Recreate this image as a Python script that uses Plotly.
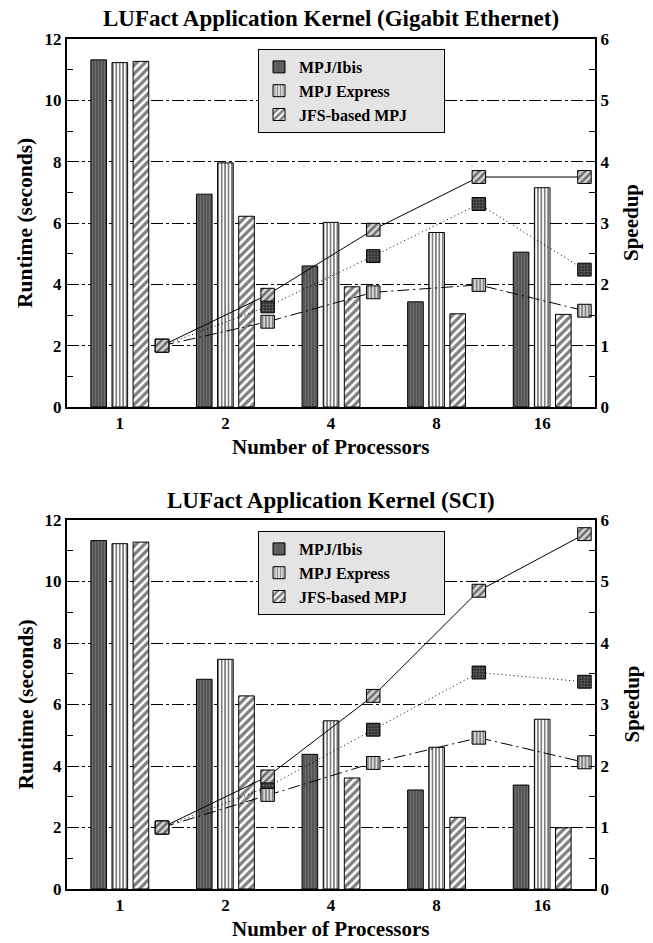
import plotly.graph_objects as go

# ---------------- data ----------------
processors = ["1", "2", "4", "8", "16"]
series_names = ["MPJ/Ibis", "MPJ Express", "JFS-based MPJ"]

# Gigabit Ethernet: runtime (seconds)
ge_ibis = [11.32, 6.94, 4.60, 3.43, 5.05]
ge_express = [11.23, 7.96, 6.02, 5.69, 7.15]
ge_jfs = [11.27, 6.22, 3.92, 3.04, 3.02]
# Gigabit Ethernet: speedup
ge_ibis_speedup = [1.0, 1.64, 2.46, 3.31, 2.24]
ge_express_speedup = [1.0, 1.39, 1.87, 1.99, 1.57]
ge_jfs_speedup = [1.0, 1.83, 2.89, 3.75, 3.75]

# SCI: runtime (seconds)
sci_ibis = [11.33, 6.82, 4.38, 3.22, 3.38]
sci_express = [11.23, 7.47, 5.47, 4.61, 5.52]
sci_jfs = [11.28, 6.28, 3.61, 2.33, 1.99]
# SCI: speedup
sci_ibis_speedup = [1.0, 1.66, 2.59, 3.52, 3.37]
sci_express_speedup = [1.0, 1.53, 2.05, 2.46, 2.06]
sci_jfs_speedup = [1.0, 1.83, 3.14, 4.85, 5.77]

titles = ["LUFact Application Kernel (Gigabit Ethernet)", "LUFact Application Kernel (SCI)"]

# ---------------- styling ----------------
FONT = '"Liberation Serif", "Times New Roman", Times, "DejaVu Serif", serif'
W, H = 653, 943
ML, MR, MT, MB = 67, 58, 39, 54
PH = H - MT - MB
top_dom = [(889 - 407) / PH, 1.0]
bot_dom = [0.0, (889 - 520) / PH]

bar_patterns = [
    dict(shape="|", fgcolor="#8a8a8a", bgcolor="#555555", size=3, solidity=0.3),
    dict(shape="|", fgcolor="black", bgcolor="white", size=3.4, solidity=0.5),
    dict(shape="/", fgcolor="black", bgcolor="white", size=6, solidity=0.55),
]
marker_patterns = [
    dict(shape=".", fgcolor="#9a9a9a", bgcolor="#303030", size=3, solidity=0.4),
    dict(shape="|", fgcolor="black", bgcolor="#d8d8d8", size=3.4, solidity=0.4),
    dict(shape="/", fgcolor="black", bgcolor="#d8d8d8", size=5, solidity=0.5),
]
line_dash = ["1px,3px", "12px,4px,2px,4px", "solid"]
bar_offsets = [-0.2, 0.0, 0.2]
marker_offset = 0.4
bar_w = 0.148
mk_w = 0.128
mk_h = 0.21

fig = go.Figure()

panels = [
    dict(rt=[ge_ibis, ge_express, ge_jfs], sp=[ge_ibis_speedup, ge_express_speedup, ge_jfs_speedup],
         xa="x", ya="y", ya_sp="y2", ya_mk="y5", legend="legend"),
    dict(rt=[sci_ibis, sci_express, sci_jfs], sp=[sci_ibis_speedup, sci_express_speedup, sci_jfs_speedup],
         xa="x2", ya="y3", ya_sp="y4", ya_mk="y6", legend="legend2"),
]

idx = list(range(len(processors)))
for p in panels:
    # runtime bars
    for k, name in enumerate(series_names):
        fig.add_trace(go.Bar(
            x=[i + bar_offsets[k] for i in idx], y=p["rt"][k], width=bar_w,
            name=name + ("\u00a0" * 8 if k == 2 else ""),
            marker=dict(color=bar_patterns[k]["bgcolor"], pattern=bar_patterns[k],
                        line=dict(color="black", width=1)),
            xaxis=p["xa"], yaxis=p["ya"], legend=p["legend"], hoverinfo="skip",
        ))
    # speedup lines
    for k, name in enumerate(series_names):
        fig.add_trace(go.Scatter(
            x=[i + marker_offset for i in idx], y=p["sp"][k], mode="lines",
            line=dict(color="black", width=1, dash=line_dash[k]),
            xaxis=p["xa"], yaxis=p["ya_sp"], showlegend=False, hoverinfo="skip",
        ))
    # speedup markers (patterned squares)
    for k, name in enumerate(series_names):
        fig.add_trace(go.Bar(
            x=[i + marker_offset for i in idx], y=[mk_h] * len(idx),
            base=[v - mk_h / 2 for v in p["sp"][k]], width=mk_w,
            marker=dict(color=marker_patterns[k]["bgcolor"], pattern=marker_patterns[k],
                        line=dict(color="black", width=1)),
            xaxis=p["xa"], yaxis=p["ya_mk"], showlegend=False, hoverinfo="skip",
        ))

tickfont = dict(family=FONT, size=17, color="black", weight="bold")
grid_dash = "12px,3px,3px,3px"


def xaxis(anchor):
    return dict(domain=[0, 1], anchor=anchor, range=[-0.5, 4.5], tickvals=idx, ticktext=processors,
                ticks="", showgrid=False, zeroline=False, showline=True, linewidth=2,
                linecolor="black", mirror=True, tickfont=tickfont, fixedrange=True)


def ylaxis(dom, anchor):
    return dict(domain=dom, anchor=anchor, range=[0, 12], dtick=2, ticks="inside", ticklen=6,
                tickcolor="black", minor=dict(dtick=1, ticks="inside", ticklen=6, tickcolor="black"),
                showgrid=True, gridcolor="black", gridwidth=1, griddash=grid_dash,
                zeroline=False, showline=True, linewidth=2, linecolor="black", mirror=True,
                tickfont=tickfont, fixedrange=True)


def yraxis(ov, anchor):
    return dict(overlaying=ov, anchor=anchor, side="right", range=[0, 6], dtick=1, ticks="inside",
                ticklen=6, tickcolor="black",
                minor=dict(dtick=0.5, ticks="inside", ticklen=6, tickcolor="black"),
                showgrid=False, zeroline=False, showline=True, linewidth=2, linecolor="black",
                tickfont=tickfont, fixedrange=True)


def hidden(ov, anchor):
    return dict(overlaying=ov, anchor=anchor, range=[0, 6], visible=False, fixedrange=True)


legend_style = dict(bgcolor="#e4e4e4", bordercolor="black", borderwidth=1,
                    font=dict(family=FONT, size=16, color="black", weight="bold"),
                    xanchor="left", yanchor="top", x=(258 - ML) / (W - ML - MR),
                    traceorder="normal", itemclick=False, itemdoubleclick=False)

ann = []
plot_cx = 0.5
for t, yc in zip(titles, [18, 500]):
    ann.append(dict(text="<b>%s</b>" % t, xref="paper", yref="paper", x=plot_cx,
                    y=(889 - yc) / PH, xanchor="center", yanchor="middle", showarrow=False,
                    font=dict(family=FONT, size=23, color="black")))
for top, bottom in [(39, 407), (520, 889)]:
    mid = (top + bottom) / 2
    ann.append(dict(text="<b>Number of Processors</b>", xref="paper", yref="paper", x=plot_cx,
                    y=(889 - (bottom + 40)) / PH, xanchor="center", yanchor="middle",
                    showarrow=False, font=dict(family=FONT, size=21, color="black")))
    ann.append(dict(text="<b>Runtime (seconds)</b>", xref="paper", yref="paper",
                    x=(25 - ML) / (W - ML - MR), y=(889 - mid) / PH, xanchor="center",
                    yanchor="middle", textangle=-90, showarrow=False,
                    font=dict(family=FONT, size=21.5, color="black")))
    ann.append(dict(text="<b>Speedup</b>", xref="paper", yref="paper",
                    x=(631 - ML) / (W - ML - MR), y=(889 - mid) / PH, xanchor="center",
                    yanchor="middle", textangle=-90, showarrow=False,
                    font=dict(family=FONT, size=21, color="black")))

fig.update_layout(
    width=W, height=H, margin=dict(l=ML, r=MR, t=MT, b=MB, autoexpand=False),
    paper_bgcolor="white", plot_bgcolor="white", barmode="overlay",
    font=dict(family=FONT, color="black"),
    xaxis=xaxis("y"), xaxis2=xaxis("y3"),
    yaxis=ylaxis(top_dom, "x"), yaxis2=yraxis("y", "x"), yaxis5=hidden("y", "x"),
    yaxis3=ylaxis(bot_dom, "x2"), yaxis4=yraxis("y3", "x2"), yaxis6=hidden("y3", "x2"),
    legend=dict(legend_style, y=(889 - 49) / PH),
    legend2=dict(legend_style, y=(889 - 531) / PH),
    annotations=ann, showlegend=True,
)

fig.write_html("out.html", config={"displayModeBar": False},
               post_script="document.body.style.margin='0px';document.body.style.overflow='hidden';")
